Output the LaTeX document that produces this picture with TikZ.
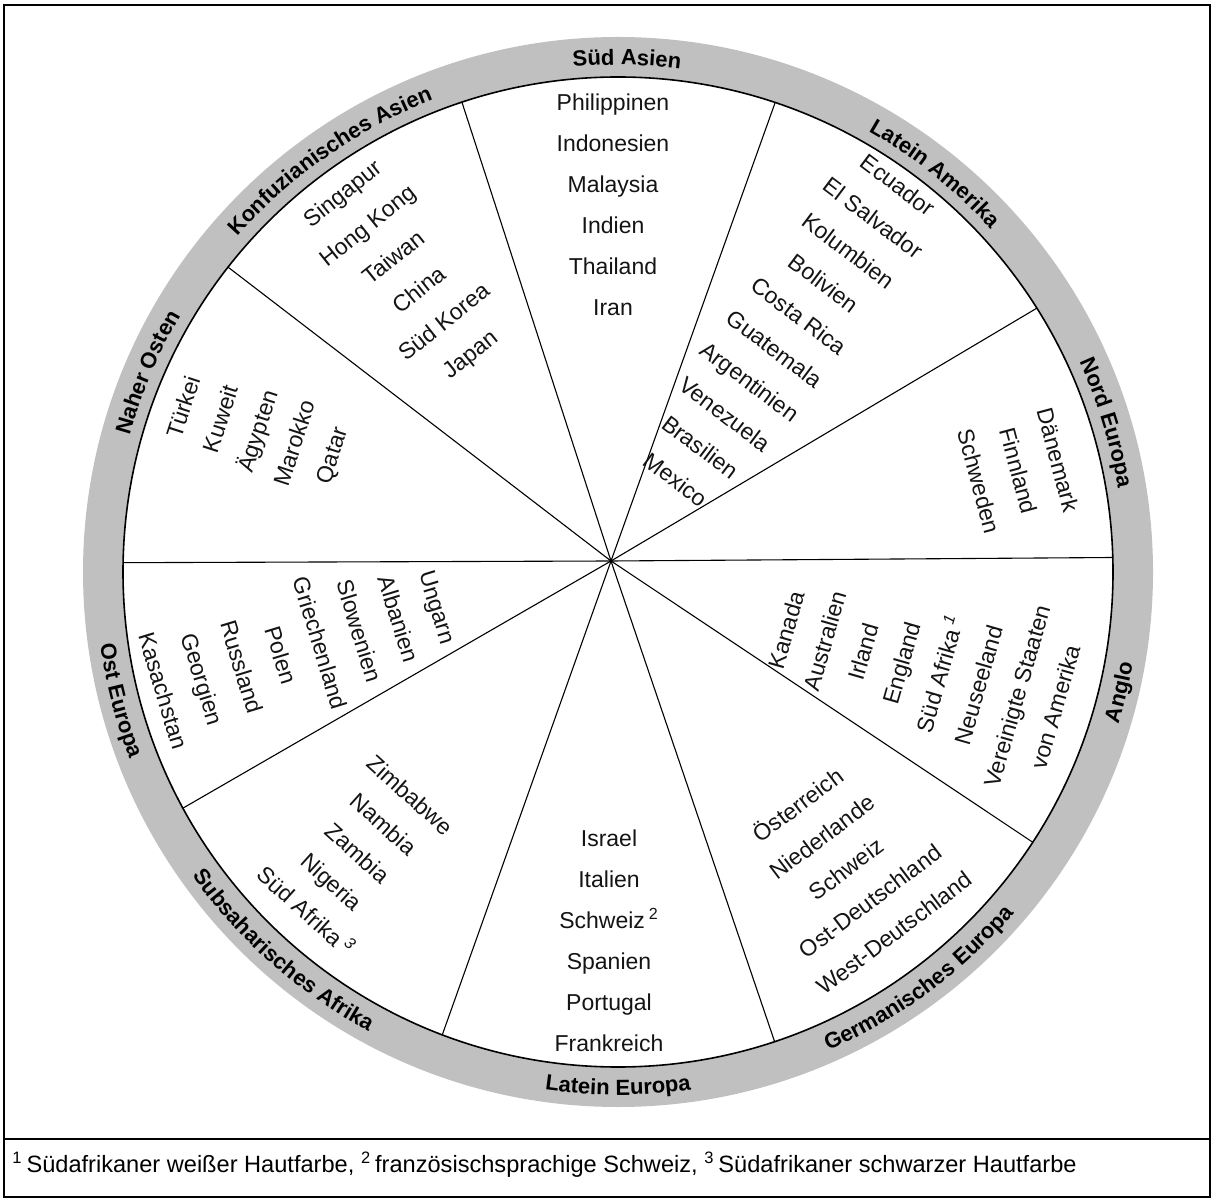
\documentclass[tikz,border=0pt]{standalone}
\usepackage{fontspec}
\setmainfont{Liberation Sans}
\usetikzlibrary{decorations.text}
\definecolor{ringgray}{RGB}{192,192,192}
\definecolor{txtcol}{RGB}{20,20,20}
\tikzset{
  ctry/.style={font=\fontsize{11.5}{13}\selectfont, text=txtcol, inner sep=0pt, text height=8.3pt, text depth=0pt, anchor=center},
  sector/.style={line width=0.55pt, black},
  frame/.style={line width=1.2pt, black},
  innerc/.style={line width=0.8pt, black},
}
\newcommand{\ringlabelcw}[3]{%
  \path[decorate, decoration={text along path, text align=center, text={|\fontsize{11}{13}\selectfont\bfseries|#3}}]
    (C) ++({#1+#2}:507) arc[start angle={#1+#2}, end angle={#1-#2}, radius=507];}
\newcommand{\ringlabelccw}[3]{%
  \path[decorate, decoration={text along path, text align=center, text={|\fontsize{11}{13}\selectfont\bfseries|#3}}]
    (C) ++({#1-#2}:523) arc[start angle={#1-#2}, end angle={#1+#2}, radius=523];}
\newcommand{\ctrylist}[6]{% x, y, angle, spacing, name, list
  \begin{scope}[shift={(#1,#2)}, rotate=#3, transform shape]
    \foreach \t [count=\i from 0] in {#6} \node[ctry] (#5\i) at (0,{-\i*#4}) {\t};
  \end{scope}}
\begin{document}
\begin{tikzpicture}[x=0.5pt, y=0.5pt]
\useasboundingbox (0,0) rectangle (1214,1200);
% frame
\draw[frame] (4,3) rectangle (1210,1195);
\draw[frame] (4,61) -- (1210,61);
% circle
\coordinate (C) at (618,628);
\coordinate (O) at (611,639);
\fill[ringgray, even odd rule] (C) circle (535) (C) circle (495);
\begin{scope}
  \clip (C) circle (495);
  \foreach \a in {108,70.3,30.7,0.4,-33.7,-71.2,-109.6,-150,180.2,142.5}
    \draw[sector] (O) -- ++(\a:700);
\end{scope}
\draw[innerc] (C) circle (495);
% ring labels
\ringlabelcw{89}{25}{Süd Asien}
\ringlabelcw{125}{30}{Konfuzianisches Asien}
\ringlabelcw{51.5}{25}{Latein Amerika}
\ringlabelcw{17}{25}{Nord Europa}
\ringlabelcw{157}{25}{Naher Osten}
\ringlabelccw{-13.5}{20}{Anglo}
\ringlabelccw{-53.5}{30}{Germanisches Europa}
\ringlabelccw{-90}{25}{Latein Europa}
\ringlabelccw{228.5}{30}{Subsaharisches Afrika}
\ringlabelccw{194.5}{25}{Ost Europa}
% country lists
\ctrylist{613}{1098}{0}{41}{sa}{Philippinen,Indonesien,Malaysia,Indien,Thailand,Iran}
\ctrylist{898}{1015}{-37}{41}{la}{Ecuador,El Salvador,Kolumbien,Bolivien,Costa Rica,Guatemala,Argentinien,Venezuela,Brasilien,Mexico}
\ctrylist{342}{1007}{38.5}{41}{ka}{Singapur,Hong Kong,Taiwan,China,Süd Korea,Japan}
\ctrylist{183}{793}{72}{39}{no}{Türkei,Kuweit,Ägypten,Marokko,Qatar}
\ctrylist{438}{593}{-73}{41}{oe}{Ungarn,Albanien,Slowenien,Griechenland,Polen,Russland,Georgien,Kasachstan}
\ctrylist{1058}{740}{-75}{41}{nd}{Dänemark,Finnland,Schweden}
\ctrylist{786}{570}{74}{40}{an}{Kanada,Australien,Irland,England,Süd Afrika\,\textsuperscript{\textit{1}},Neuseeland,Vereinigte Staaten,von Amerika}
\ctrylist{798}{395}{37}{40}{ge}{Österreich,Niederlande,Schweiz,Ost-Deutschland,West-Deutschland}
\ctrylist{609}{362}{0}{41}{le}{Israel,Italien,Schweiz\,\textsuperscript{2},Spanien,Portugal,Frankreich}
\ctrylist{410}{405}{-42}{39}{ss}{Zimbabwe,Nambia,Zambia,Nigeria,Süd Afrika\,\textsuperscript{\textit{3}}}
% footnote
\node[anchor=base west, inner sep=0pt, font=\fontsize{11.8}{13}\selectfont] (fn) at (12,28)
  {\textsuperscript{1}\,Südafrikaner weißer Hautfarbe, \textsuperscript{2}\,französischsprachige Schweiz, \textsuperscript{3}\,Südafrikaner schwarzer Hautfarbe};
\end{tikzpicture}
\end{document}
